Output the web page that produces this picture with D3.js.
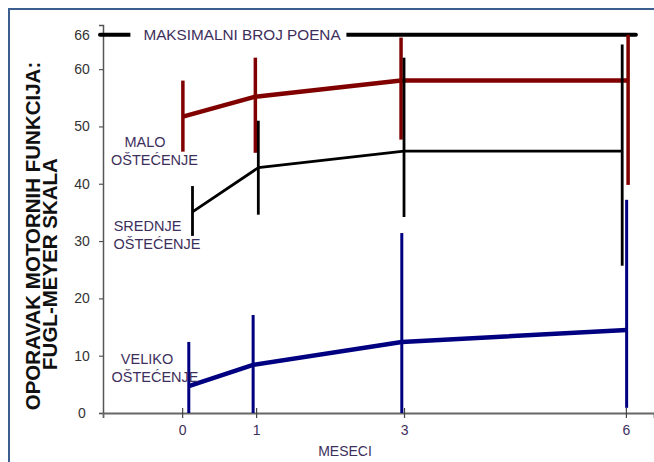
<!DOCTYPE html>
<html>
<head>
<meta charset="utf-8">
<script src="https://cdn.jsdelivr.net/npm/d3@7/dist/d3.min.js"></script>
<style>
  html, body { margin: 0; padding: 0; background: #fff; }
  svg { display: block; font-family: "Liberation Sans", Arial, sans-serif; }
</style>
</head>
<body>
<svg id="chart" width="654" height="462"></svg>
<script>
// ---- data ----
const monthTicks = [0, 1, 3, 6];
const yTicks = [0, 10, 20, 30, 40, 50, 60, 66];
const maxScore = 66;

// plotted month positions (slightly jittered in the original)
const maloMonths    = [0.01, 0.99, 2.96, 6.03];
const srednjeMonths = [0.14, 1.03, 3.00, 5.95];
const velikoMonths  = [0.09, 0.96, 2.97, 6.01];

const maloMean    = [51.7, 55.2, 58.0, 58.0];
const maloLow     = [45.6, 45.4, 47.7, 39.8];
const maloHigh    = [58.0, 62.0, 65.5, 66.0];

const srednjeMean = [35.1, 42.8, 45.7, 45.7];
const srednjeLow  = [30.9, 34.6, 34.2, 25.7];
const srednjeHigh = [39.6, 51.0, 62.0, 64.3];

const velikoMean  = [4.7, 8.4, 12.4, 14.5];
const velikoLow   = [0.0, 0.0, 0.0, 0.9];
const velikoHigh  = [12.4, 17.1, 31.4, 37.2];

const seriesLabels = {
  malo: ["MALO", "OŠTEĆENJE"],
  srednje: ["SREDNJE", "OŠTEĆENJE"],
  veliko: ["VELIKO", "OŠTEĆENJE"]
};
const maxLabel = "MAKSIMALNI BROJ POENA";
const xTitle = "MESECI";
const yTitle = ["OPORAVAK MOTORNIH FUNKCIJA:", "FUGL-MEYER SKALA"];

// ---- build ----
const svg = d3.select("#chart");
const W = 654, H = 462;
const left = 103, bottom = 413;

const x = d3.scaleLinear().domain([-1.07, 6.38]).range([left, W]);
const y = d3.scaleLinear().domain([0, 67.7]).range([bottom, 25]);

const textCol = "#3d2f5c";

// frame
svg.append("path")
  .attr("d", `M9,${H} V9 H${W}`)
  .attr("fill", "none").attr("stroke", "#3b5f8e").attr("stroke-width", 2);

// y axis
const yAxis = svg.append("g").attr("transform", `translate(${left},0)`)
  .call(d3.axisLeft(y).tickValues(yTicks).tickSizeOuter(0).tickSize(4));
yAxis.select(".domain").attr("stroke", "#555").attr("stroke-width", 1.5);
yAxis.selectAll(".tick line").attr("stroke", "#555").attr("stroke-width", 1.2);
yAxis.selectAll(".tick text")
  .attr("x", -21).attr("text-anchor", "middle")
  .attr("font-size", 14).attr("fill", "#333");

// x axis
const xAxis = svg.append("g").attr("transform", `translate(0,${bottom})`)
  .call(d3.axisBottom(x).tickValues(monthTicks).tickSizeOuter(0).tickSize(5));
xAxis.select(".domain").attr("stroke", "#666").attr("stroke-width", 1.8);
xAxis.selectAll(".tick line").attr("y1", -5).attr("y2", 5)
  .attr("stroke", "#444").attr("stroke-width", 1.2);
xAxis.selectAll(".tick text")
  .attr("y", 12).attr("font-size", 14).attr("fill", textCol);

// x title
svg.append("text").attr("x", 345).attr("y", 456)
  .attr("text-anchor", "middle").attr("font-size", 14).attr("fill", textCol)
  .text(xTitle);

// y title
svg.append("text")
  .attr("transform", `translate(40,236) rotate(-90)`)
  .attr("text-anchor", "middle").attr("font-size", 20.5).attr("font-weight", "bold")
  .attr("fill", "#111").text(yTitle[0]);
svg.append("text")
  .attr("transform", `translate(57,264) rotate(-90)`)
  .attr("text-anchor", "middle").attr("font-size", 20.5).attr("font-weight", "bold")
  .attr("fill", "#111").text(yTitle[1]);

// max score line
svg.append("line")
  .attr("x1", left - 3).attr("x2", x(6) + 10)
  .attr("y1", y(maxScore)).attr("y2", y(maxScore))
  .attr("stroke", "#000").attr("stroke-width", 4).attr("stroke-linecap", "round");
const maxText = svg.append("text")
  .attr("x", 242).attr("y", y(maxScore) + 5.5)
  .attr("text-anchor", "middle").attr("font-size", 15.3).attr("fill", textCol)
  .text(maxLabel);
const bb = maxText.node().getBBox();
svg.append("rect")
  .attr("x", bb.x - 13).attr("y", bb.y).attr("width", bb.width + 18).attr("height", bb.height)
  .attr("fill", "#fff");
maxText.raise();

// series
function drawSeries(months, mean, low, high, color, lineW, barW) {
  const g = svg.append("g");
  const pts = months.map((m, i) => ({ m, v: mean[i], lo: low[i], hi: high[i] }));
  g.selectAll("line.err").data(pts).join("line").attr("class", "err")
    .attr("x1", d => x(d.m)).attr("x2", d => x(d.m))
    .attr("y1", d => y(d.lo)).attr("y2", d => y(d.hi))
    .attr("stroke", color).attr("stroke-width", barW);
  g.append("path").datum(pts)
    .attr("d", d3.line().x(d => x(d.m)).y(d => y(d.v)))
    .attr("fill", "none").attr("stroke", color).attr("stroke-width", lineW)
    .attr("stroke-linejoin", "round");
}
drawSeries(maloMonths, maloMean, maloLow, maloHigh, "#800000", 4.5, 3.5);
drawSeries(srednjeMonths, srednjeMean, srednjeLow, srednjeHigh, "#000000", 2.8, 2.8);
drawSeries(velikoMonths, velikoMean, velikoLow, velikoHigh, "#000080", 4.5, 3);

// series labels
function label(lines, cx, cy) {
  lines.forEach((t, i) => {
    svg.append("text").attr("x", cx[i]).attr("y", cy[i])
      .attr("text-anchor", "middle").attr("font-size", 14.5).attr("fill", textCol)
      .attr("dominant-baseline", "central").text(t);
  });
}
label(seriesLabels.malo, [145, 154.5], [142, 160]);
label(seriesLabels.srednje, [147.5, 157], [226, 244]);
label(seriesLabels.veliko, [147, 155], [359, 377]);
</script>
</body>
</html>
